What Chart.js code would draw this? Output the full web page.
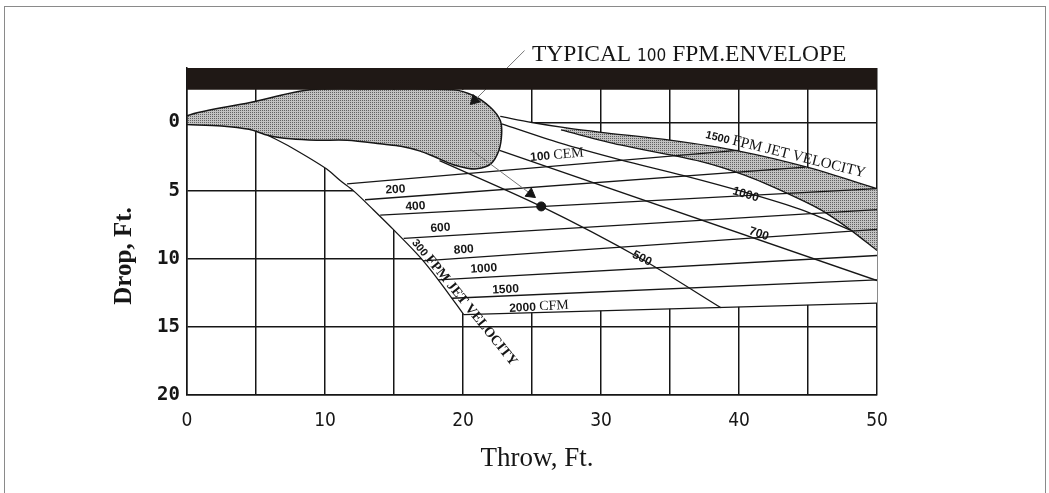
<!DOCTYPE html>
<html lang="en">
<head>
<meta charset="UTF-8">
<title>Throw and Drop</title>
<script src="https://cdn.jsdelivr.net/npm/chart.js"></script>
<style>
  body { margin: 0; background: #fff; }
  #wrap { position: relative; width: 1049px; height: 493px; overflow: hidden; }
  #frame { position: absolute; left: 4px; top: 6px; width: 1040px; height: 500px; border: 1px solid #8a8a8a; pointer-events: none; }
</style>
</head>
<body>
<div id="wrap">
  <canvas id="chart" width="1049" height="493"></canvas>
  <div id="frame"></div>
</div>
<script>
  // axis ticks
  const xTickLabels = [0, 10, 20, 30, 40, 50];
  const yTickValues = [0, 5, 10, 15, 20];

  // [throw ft, drop ft]
  const ceilingBar = [[0, -4], [50, -4], [50, -2.4], [0, -2.4], [0, -4]];
  const envLower = [[0, 0.15], [2.5, 0.25], [4.5, 0.5], [5.9, 0.95]];
  const envRest = [
    [7.5, 1.2], [9.4, 1.3], [11.6, 1.3],
    [14.3, 1.6], [15.5, 1.75], [16.9, 2.1], [17.9, 2.5], [19.3, 3.1], [20.3, 3.35], [21.0, 3.4],
    [22.0, 3.05], [22.6, 2.05], [22.8, 0.85], [22.7, -0.15], [22.0, -1.1], [20.8, -1.95],
    [19.3, -2.4], [14, -2.45]
  ];
  const envTop = [[8.9, -2.4], [4.5, -1.45], [0, -0.5]];
  const fpm300 = [[5.9, 0.95], [7.5, 1.8], [10.1, 3.4], [11.1, 4.26], [12.05, 5.0], [13.5, 6.4],
    [15.0, 7.9], [16.9, 9.9], [18.4, 11.8], [20.05, 14.1]];
  const fpm1500 = [[22.7, -0.45], [25, 0], [27.5, 0.4], [30, 0.72], [35, 1.3], [40, 2.1], [45, 3.3], [50, 4.86]];
  const shadeEdge = [[27.1, 0.55], [31.4, 1.65], [37.2, 2.85], [40.5, 3.9], [43.5, 5.2], [46, 6.45], [48.1, 7.9], [50, 9.4]];
  const fpm1000 = [[22.8, 0.1], [27, 1.5], [31.4, 2.74], [36, 3.9], [40.35, 5.1], [44.5, 6.4], [48.1, 7.9]];
  const fpm700 = [[22.65, 2.05], [50, 11.6]];
  const fpm500 = [[18.3, 2.8], [25.67, 6.16], [32.9, 10.0], [38.7, 13.6]];
  const cfm100 = [[11.6, 4.5], [39.9, 2.05]];
  const cfm200 = [[12.9, 5.67], [44.8, 3.28]];
  const cfm400 = [[14.0, 6.8], [50, 4.86]];
  const cfm600 = [[15.7, 8.5], [50, 6.4]];
  const cfm800 = [[17.1, 10.15], [50, 7.85]];
  const cfm1000 = [[18.2, 11.55], [50, 9.76]];
  const cfm1500 = [[19.2, 12.9], [50, 11.55]];
  const cfm2000 = [[20.05, 14.1], [50, 13.25]];
  const leader = [[24.46, -5.28], [20.54, -1.32]];
  const pointer = [[20.5, 1.93], [25.25, 5.5]];
  const arrowHeads = [[20.84, -1.63], [24.9, 5.24]];
  const arrowTurn = [225, 127];
  const sample = [[25.67, 6.16]];

  const pts = arr => arr.map(([x, y]) => ({ x, y }));

  const envelope = [...envLower, ...envRest, ...envTop, envLower[0]];
  // white paper under the envelope and fan (hides the grid there)
  const fanArea = [...envTop.slice(-1), ...envLower, ...fpm300.slice(1), cfm2000[1],
    ...fpm1500.slice().reverse(), [22.7, -2.4], ...envTop];
  // shaded band between the 1500 FPM curve and the edge below it
  const bandArea = [...fpm1500.filter(p => p[0] >= 27.5), ...shadeEdge.slice().reverse()];

  function stipple() {
    const c = document.createElement('canvas');
    c.width = 2; c.height = 2;
    const g = c.getContext('2d');
    g.fillStyle = 'rgba(0,0,0,0.24)'; g.fillRect(0, 0, 2, 2);
    g.fillStyle = 'rgba(0,0,0,0.5)'; g.fillRect(0, 0, 1, 1);
    return g.createPattern(c, 'repeat');
  }
  const dots = stipple();

  const INK = '#161616';
  const line = (data, extra) => Object.assign({
    data: pts(data), showLine: true, pointRadius: 0, borderColor: INK, borderWidth: 1.3,
    backgroundColor: 'transparent', fill: false, tension: 0, order: 5
  }, extra);

  const SERIF = "'Liberation Serif', 'DejaVu Serif', serif";
  const SANS = "'Liberation Sans', Arial, sans-serif";
  const NARROW = "'Liberation Sans Narrow', 'DejaVu Sans Condensed', 'Liberation Sans', sans-serif";

  // text on the drawing: parts are [text, size, family, weight]
  const notes = [
    { parts: [['TYPICAL ', 23.5, SERIF, 'normal'], ['100', 17, NARROW, 'normal'], [' FPM.ENVELOPE', 23.5, SERIF, 'normal']], at: [25.0, -4.55], rot: 0, align: 'left', base: true },
    { parts: [['100 ', 12, SANS, 'bold'], ['CEM', 14, SERIF, 'normal']], at: [26.8, 2.3], rot: -5 },
    { parts: [['200', 12, SANS, 'bold']], at: [15.1, 4.86], rot: -4 },
    { parts: [['400', 12, SANS, 'bold']], at: [16.55, 6.09], rot: -4 },
    { parts: [['600', 12, SANS, 'bold']], at: [18.36, 7.68], rot: -4 },
    { parts: [['800', 12, SANS, 'bold']], at: [20.05, 9.27], rot: -4 },
    { parts: [['1000', 12, SANS, 'bold']], at: [21.5, 10.66], rot: -4 },
    { parts: [['1500', 12, SANS, 'bold']], at: [23.08, 12.2], rot: -3 },
    { parts: [['2000 ', 12, SANS, 'bold'], ['CFM', 14, SERIF, 'normal']], at: [25.5, 13.43], rot: -3 },
    { parts: [['500', 12, SANS, 'bold']], at: [33.0, 9.93], rot: 27 },
    { parts: [['700', 12, SANS, 'bold']], at: [41.46, 8.12], rot: 18 },
    { parts: [['1000', 12, SANS, 'bold']], at: [40.5, 5.23], rot: 16 },
    { parts: [['1500 ', 11, SANS, 'bold'], ['FPM JET VELOCITY', 15, SERIF, 'normal']], at: [43.4, 2.2], rot: 14 },
    { parts: [['300 ', 11, SANS, 'bold'], ['FPM JET VELOCITY', 14, SERIF, 'bold']], at: [20.17, 13.13], rot: 51 },
    { parts: [['Drop, Ft.', 25, SERIF, 'bold']], px: [122, 256], rot: -90 },
    { parts: [['Throw, Ft.', 27, SERIF, 'normal']], px: [537, 457], rot: 0 }
  ];

  const notesPlugin = {
    id: 'notes',
    afterDatasetsDraw(chart) {
      const { ctx, scales: { x, y } } = chart;
      notes.forEach(n => {
        const px = n.px ? n.px[0] : x.getPixelForValue(n.at[0]);
        const py = n.px ? n.px[1] : y.getPixelForValue(n.at[1]);
        const big = Math.max(...n.parts.map(p => p[1]));
        ctx.save();
        ctx.translate(px, py);
        ctx.rotate(n.rot * Math.PI / 180);
        ctx.fillStyle = INK;
        ctx.textBaseline = 'alphabetic';
        ctx.textAlign = 'left';
        let w = 0;
        n.parts.forEach(([t, s, f, b]) => { ctx.font = `${b} ${s}px ${f}`; w += ctx.measureText(t).width; });
        let cx = n.align === 'left' ? 0 : -w / 2;
        const dy = n.base ? 0 : big * 0.35;
        n.parts.forEach(([t, s, f, b]) => {
          ctx.font = `${b} ${s}px ${f}`;
          ctx.fillText(t, cx, dy);
          cx += ctx.measureText(t).width;
        });
        ctx.restore();
      });
    }
  };

  new Chart(document.getElementById('chart'), {
    type: 'scatter',
    data: {
      datasets: [
        line(fanArea, { borderWidth: 0, backgroundColor: '#ffffff', fill: 'shape', order: 20 }),
        line(bandArea, { borderWidth: 0, backgroundColor: dots, fill: 'shape', order: 19 }),
        line(envelope, { borderWidth: 1.5, backgroundColor: dots, fill: 'shape', tension: 0.3, order: 18 }),
        line(fpm300, { tension: 0.3 }),
        line(fpm1500, { tension: 0.3 }),
        line(shadeEdge, { tension: 0.3 }),
        line(fpm1000, { tension: 0.3 }),
        line(fpm700),
        line(fpm500, { tension: 0.3 }),
        line(cfm100), line(cfm200), line(cfm400), line(cfm600),
        line(cfm800), line(cfm1000), line(cfm1500), line(cfm2000),
        line(leader, { borderColor: '#777', borderWidth: 1, clip: false, order: 4 }),
        line(ceilingBar, { borderWidth: 0, backgroundColor: '#1f1815', fill: 'shape', order: 3 }),
        line(pointer, { borderColor: '#777', borderWidth: 1, order: 2 }),
        {
          data: pts(arrowHeads), pointStyle: 'triangle', pointRadius: 6, rotation: arrowTurn,
          backgroundColor: INK, borderColor: INK, borderWidth: 1, order: 1
        },
        { data: pts(sample), pointRadius: 4.5, backgroundColor: INK, borderColor: INK, order: 0 }
      ]
    },
    options: {
      responsive: false,
      animation: false,
      events: [],
      layout: { padding: { left: 0, right: 172, top: 68, bottom: 0 } },
      plugins: { legend: { display: false }, tooltip: { enabled: false } },
      scales: {
        x: {
          type: 'linear', min: 0, max: 50,
          ticks: {
            stepSize: 5, autoSkip: false, maxRotation: 0, padding: 15, color: INK,
            font: { family: NARROW, size: 19 },
            callback: v => xTickLabels.includes(v) ? v : ''
          },
          grid: { color: INK, lineWidth: 1.5, drawTicks: false },
          border: { color: INK, width: 1.5 },
          afterFit: s => { s.height = 98; }
        },
        y: {
          type: 'linear', min: -4, max: 20, reverse: true,
          afterBuildTicks: s => { s.ticks = yTickValues.map(v => ({ value: v })); },
          ticks: { padding: 7, color: INK, font: { family: "'DejaVu Sans Mono', monospace", size: 19, weight: 'bold' } },
          grid: { color: INK, lineWidth: 1.5, drawTicks: false },
          border: { color: INK, width: 1.5 },
          afterFit: s => { s.width = 187; }
        }
      }
    },
    plugins: [notesPlugin]
  });
</script>
</body>
</html>
